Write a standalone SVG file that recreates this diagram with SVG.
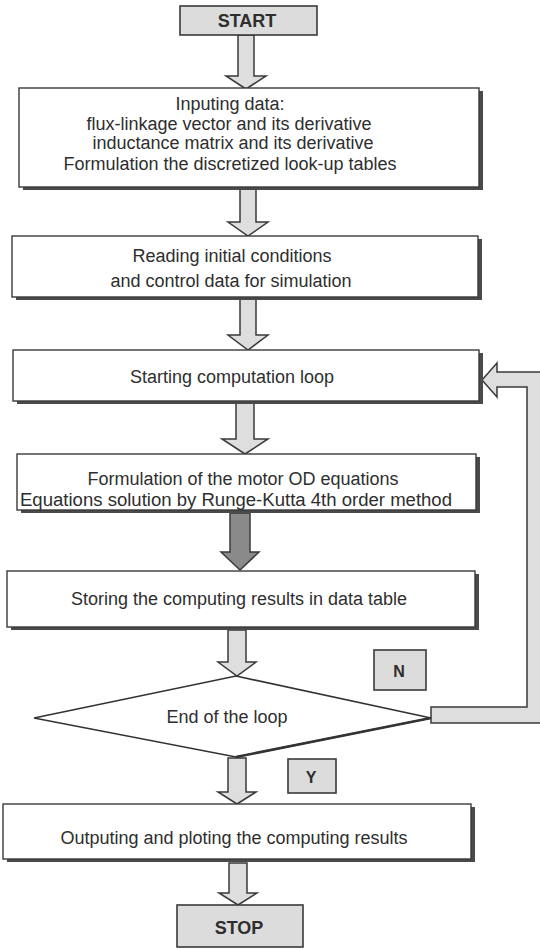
<svg xmlns="http://www.w3.org/2000/svg" width="540" height="949" viewBox="0 0 540 949">
  <style>
    .txt { font-family: "Liberation Sans", Arial, sans-serif; font-size: 18px; fill: #2e2e2e; text-anchor: middle; }
    .bold { font-weight: bold; font-size: 18px; }
    .box { fill: #ffffff; stroke: #3a3a3a; stroke-width: 1.4; }
    .shadow { fill: #4a4a4a; }
    .term { fill: #dcdcdc; stroke: #3a3a3a; stroke-width: 1.6; }
    .arrow { fill: #dedede; stroke: #3a3a3a; stroke-width: 1.5; stroke-linejoin: miter; }
    .arrow-dark { fill: #8a8a8a; stroke: #3a3a3a; stroke-width: 1.5; }
    .decision { fill: #ffffff; stroke: #333333; stroke-width: 1.6; stroke-linejoin: miter; }
  </style>

  <rect x="0" y="0" width="540" height="949" fill="#ffffff"/>

  <!-- connectors: block arrows between the steps and the loop-back path -->
  <g id="connectors">
    <polygon class="arrow" points="238,35 254,35 254,76 266,76 246,89 226,76 238,76"/>
    <polygon class="arrow" points="240,189 256,189 256,222 268,222 248,236 228,222 240,222"/>
    <polygon class="arrow" points="240,299 256,299 256,335 268,335 248,350 228,335 240,335"/>
    <polygon class="arrow" points="236,403 254,403 254,439 268,439 245,454 222,439 236,439"/>
    <polygon class="arrow-dark" points="230,513 250,513 250,552 259,552 240,570 221,552 230,552"/>
    <polygon class="arrow" points="228,630 246,630 246,662 256,662 237,676 218,662 228,662"/>
    <polygon class="arrow" points="228,758 246,758 246,792 256,792 237,804 218,792 228,792"/>
    <polygon class="arrow" points="229,863 247,863 247,893 257,893 238,905 219,893 229,893"/>
    <!-- N branch: back to the start of the loop -->
    <polygon class="arrow" points="482,380 497,363 497,372 546,372 546,723 431,723 431,707 527,707 527,387 497,387 497,397"/>
  </g>

  <g id="start">
    <rect class="term" x="180" y="6" width="137" height="29"/>
    <text class="txt bold" x="247" y="27">START</text>
  </g>

  <g id="input-data">
    <rect class="shadow" x="23" y="91" width="460" height="99"/>
    <rect class="box" x="19" y="88" width="460" height="99"/>
    <text class="txt" x="230" y="110">Inputing data:</text>
    <text class="txt" x="229" y="130">flux-linkage vector and its derivative</text>
    <text class="txt" x="233" y="149">inductance matrix and its derivative</text>
    <text class="txt" x="230" y="170">Formulation the discretized look-up tables</text>
  </g>

  <g id="initial-conditions">
    <rect class="shadow" x="16" y="239" width="466" height="61"/>
    <rect class="box" x="12" y="236" width="466" height="61"/>
    <text class="txt" x="232" y="262">Reading initial conditions</text>
    <text class="txt" x="231" y="287">and control data for simulation</text>
  </g>

  <g id="loop-start">
    <rect class="shadow" x="17" y="353" width="466" height="51"/>
    <rect class="box" x="13" y="350" width="466" height="51"/>
    <text class="txt" x="232" y="383">Starting computation loop</text>
  </g>

  <g id="equations">
    <rect class="shadow" x="21" y="457" width="459" height="56"/>
    <rect class="box" x="17" y="454" width="459" height="56"/>
    <text class="txt" x="243" y="485">Formulation of the motor OD equations</text>
    <text class="txt" x="236" y="506" textLength="432" lengthAdjust="spacingAndGlyphs">Equations solution by Runge-Kutta 4th order method</text>
  </g>

  <g id="store-results">
    <rect class="shadow" x="11" y="574" width="468" height="56"/>
    <rect class="box" x="7" y="571" width="468" height="56"/>
    <text class="txt" x="239" y="605">Storing the computing results in data table</text>
  </g>

  <g id="loop-end">
    <polygon class="decision" points="34,718 236,676 431,718 236,757"/>
    <polyline points="236,757 431,718" fill="none" stroke="#333333" stroke-width="2.6"/>
    <text class="txt" x="227" y="723">End of the loop</text>
  </g>

  <g id="label-n">
    <rect class="term" x="374" y="650" width="52" height="40"/>
    <text class="txt bold" x="399" y="677" style="font-size:16px">N</text>
  </g>

  <g id="label-y">
    <rect class="term" x="288" y="759" width="48" height="34"/>
    <text class="txt bold" x="311" y="783" style="font-size:16px">Y</text>
  </g>

  <g id="output">
    <rect class="shadow" x="7" y="807" width="468" height="55"/>
    <rect class="box" x="3" y="804" width="468" height="55"/>
    <text class="txt" x="234" y="844">Outputing and ploting the computing results</text>
  </g>

  <g id="stop">
    <rect class="term" x="177" y="905" width="126" height="42"/>
    <text class="txt bold" x="239" y="934">STOP</text>
  </g>
</svg>
